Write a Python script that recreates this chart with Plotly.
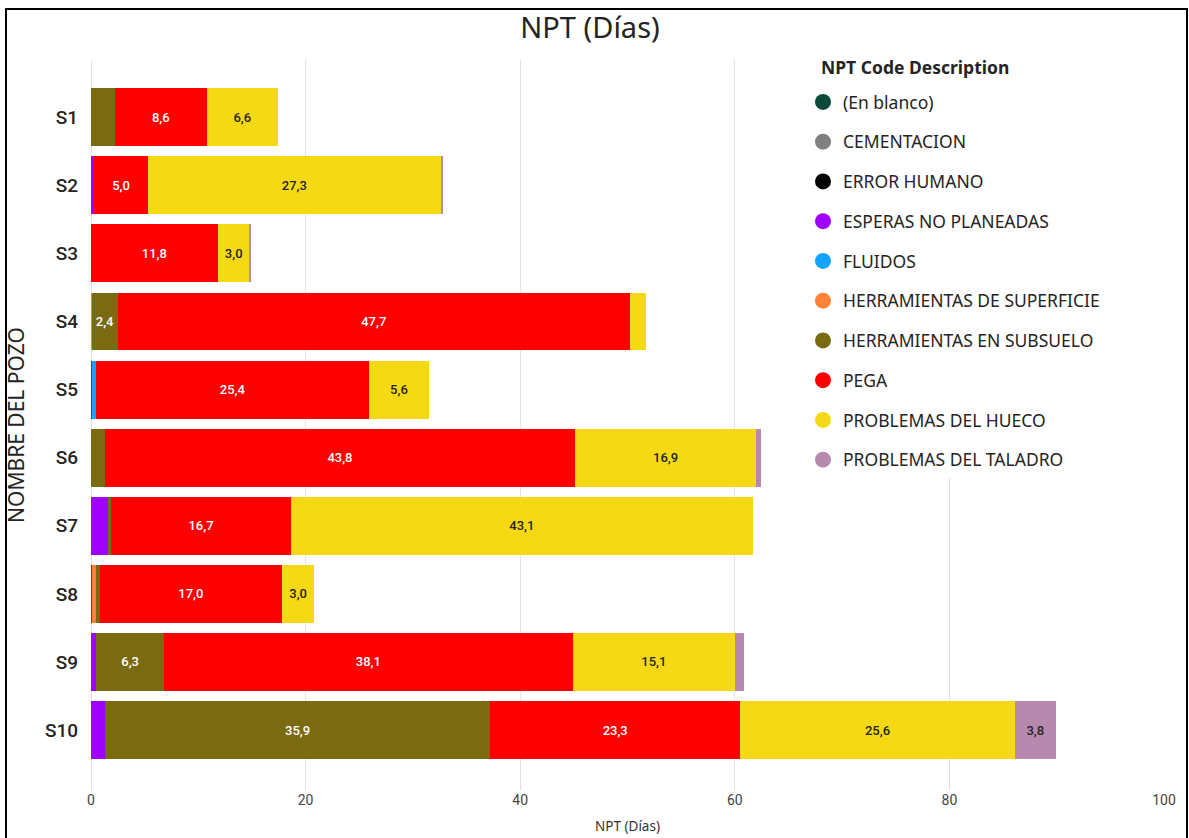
import plotly.graph_objects as go

# Wells (categories, top to bottom)
pozos = ["S1", "S2", "S3", "S4", "S5", "S6", "S7", "S8", "S9", "S10"]

# NPT days per code description, one value per well
en_blanco = [0, 0, 0, 0, 0, 0, 0, 0, 0, 0]
cementacion = [0, 0, 0, 0, 0, 0, 0, 0, 0, 0]
error_humano = [0, 0, 0, 0, 0, 0, 0, 0, 0, 0]
esperas_no_planeadas = [0, 0.3, 0, 0, 0.1, 0, 1.6, 0.1, 0.5, 1.3]
fluidos = [0, 0, 0, 0, 0.4, 0, 0, 0, 0, 0]
herramientas_superficie = [0, 0, 0, 0.1, 0, 0, 0, 0.4, 0, 0]
herramientas_subsuelo = [2.2, 0, 0, 2.4, 0, 1.3, 0.3, 0.3, 6.3, 35.9]
pega = [8.6, 5.0, 11.8, 47.7, 25.4, 43.8, 16.7, 17.0, 38.1, 23.3]
problemas_hueco = [6.6, 27.3, 3.0, 1.5, 5.6, 16.9, 43.1, 3.0, 15.1, 25.6]
problemas_taladro = [0, 0.2, 0.1, 0, 0, 0.4, 0, 0, 0.9, 3.8]

x_ticks = [0, 20, 40, 60, 80, 100]

series = [
    ("(En blanco)", en_blanco, "#0B4A3B", "#FFFFFF"),
    ("CEMENTACION", cementacion, "#808080", "#FFFFFF"),
    ("ERROR HUMANO", error_humano, "#000000", "#FFFFFF"),
    ("ESPERAS NO PLANEADAS", esperas_no_planeadas, "#A000FF", "#FFFFFF"),
    ("FLUIDOS", fluidos, "#16A2FF", "#FFFFFF"),
    ("HERRAMIENTAS DE SUPERFICIE", herramientas_superficie, "#FF8238", "#FFFFFF"),
    ("HERRAMIENTAS EN SUBSUELO", herramientas_subsuelo, "#7A6B12", "#FFFFFF"),
    ("PEGA", pega, "#FF0000", "#FFFFFF"),
    ("PROBLEMAS DEL HUECO", problemas_hueco, "#F6D915", "#252423"),
    ("PROBLEMAS DEL TALADRO", problemas_taladro, "#B889AF", "#252423"),
]

LABEL_MIN = 2.3  # segments narrower than this carry no data label

# plot-area geometry in pixels, used to place paper-referenced decorations
W, H = 1189, 838
ML, MR, MT, MB = 91, 25, 60, 48
PW, PH = W - ML - MR, H - MT - MB


def px_x(px):
    return (px - ML) / PW


def px_y(py):
    return 1 - (py - MT) / PH


fig = go.Figure()

for name, vals, color, txtcolor in series:
    labels = [f"{v:.1f}".replace(".", ",") if v >= LABEL_MIN else "" for v in vals]
    fig.add_trace(go.Bar(
        y=pozos, x=vals, orientation="h", name=name,
        marker=dict(color=color, line=dict(width=0)),
        text=labels, textposition="inside", insidetextanchor="middle",
        textangle=0,
        insidetextfont=dict(family="Roboto", size=13, color=txtcolor, weight=500),
        showlegend=False, hoverinfo="skip", legendgroup=name,
    ))

# Legend entries drawn as round markers
for name, vals, color, txtcolor in series:
    fig.add_trace(go.Scatter(
        x=[None], y=[None], mode="markers", name=name,
        marker=dict(color=color, size=16, symbol="circle"),
        showlegend=True, legendgroup=name, hoverinfo="skip",
    ))

fig.update_layout(
    width=W, height=H,
    barmode="stack", bargap=0.15,
    paper_bgcolor="white", plot_bgcolor="white",
    margin=dict(l=ML, r=MR, t=MT, b=MB, autoexpand=False),
    title=dict(text="NPT (Días)", x=590 / W, xanchor="center", y=1 - 28 / H, yanchor="middle",
               font=dict(family="Noto Sans", size=29, color="#252423")),
    xaxis=dict(range=[0, 100], tickvals=x_ticks, showgrid=True, gridcolor="#E2E2E2",
               gridwidth=1, zeroline=True, zerolinecolor="#E2E2E2", zerolinewidth=1,
               showline=False, ticks="", automargin=False,
               tickfont=dict(family="Roboto", size=14, color="#444444"),
               title=dict(text="NPT (Días)", standoff=14,
                          font=dict(family="Noto Sans", size=13.5, color="#333333"))),
    yaxis=dict(categoryorder="array", categoryarray=pozos, range=[9.88, -0.84],
               showgrid=False, zeroline=False, ticks="", ticklabelstandoff=12,
               automargin=False,
               tickfont=dict(family="Roboto", size=19, color="#252423", weight=500),
               title=dict(text="NOMBRE DEL POZO", standoff=14,
                          font=dict(family="Noto Sans", size=21, color="#252423"))),
    legend=dict(
        x=px_x(803), y=px_y(84), xanchor="left", yanchor="top",
        bgcolor="white", borderwidth=0,
        font=dict(family="Noto Sans", size=17.5, color="#252423"),
        tracegroupgap=14, itemwidth=30,
    ),
    annotations=[dict(
        text="<b>NPT Code Description</b>", xref="paper", yref="paper",
        x=px_x(819), y=px_y(67), xanchor="left", yanchor="middle", showarrow=False,
        font=dict(family="Noto Sans", size=17.5, color="#252423"),
    )],
    shapes=[
        # white panel behind the legend block
        dict(type="rect", xref="paper", yref="paper",
             x0=px_x(812), x1=px_x(1110), y0=px_y(478), y1=px_y(52),
             line=dict(width=0), fillcolor="white", layer="above"),
        # outer frame
        dict(type="rect", xref="paper", yref="paper",
             x0=px_x(6), x1=px_x(1187), y0=px_y(900), y1=px_y(9),
             line=dict(color="black", width=2), fillcolor="rgba(0,0,0,0)",
             layer="above"),
    ],
)

fig.write_html("out.html")
